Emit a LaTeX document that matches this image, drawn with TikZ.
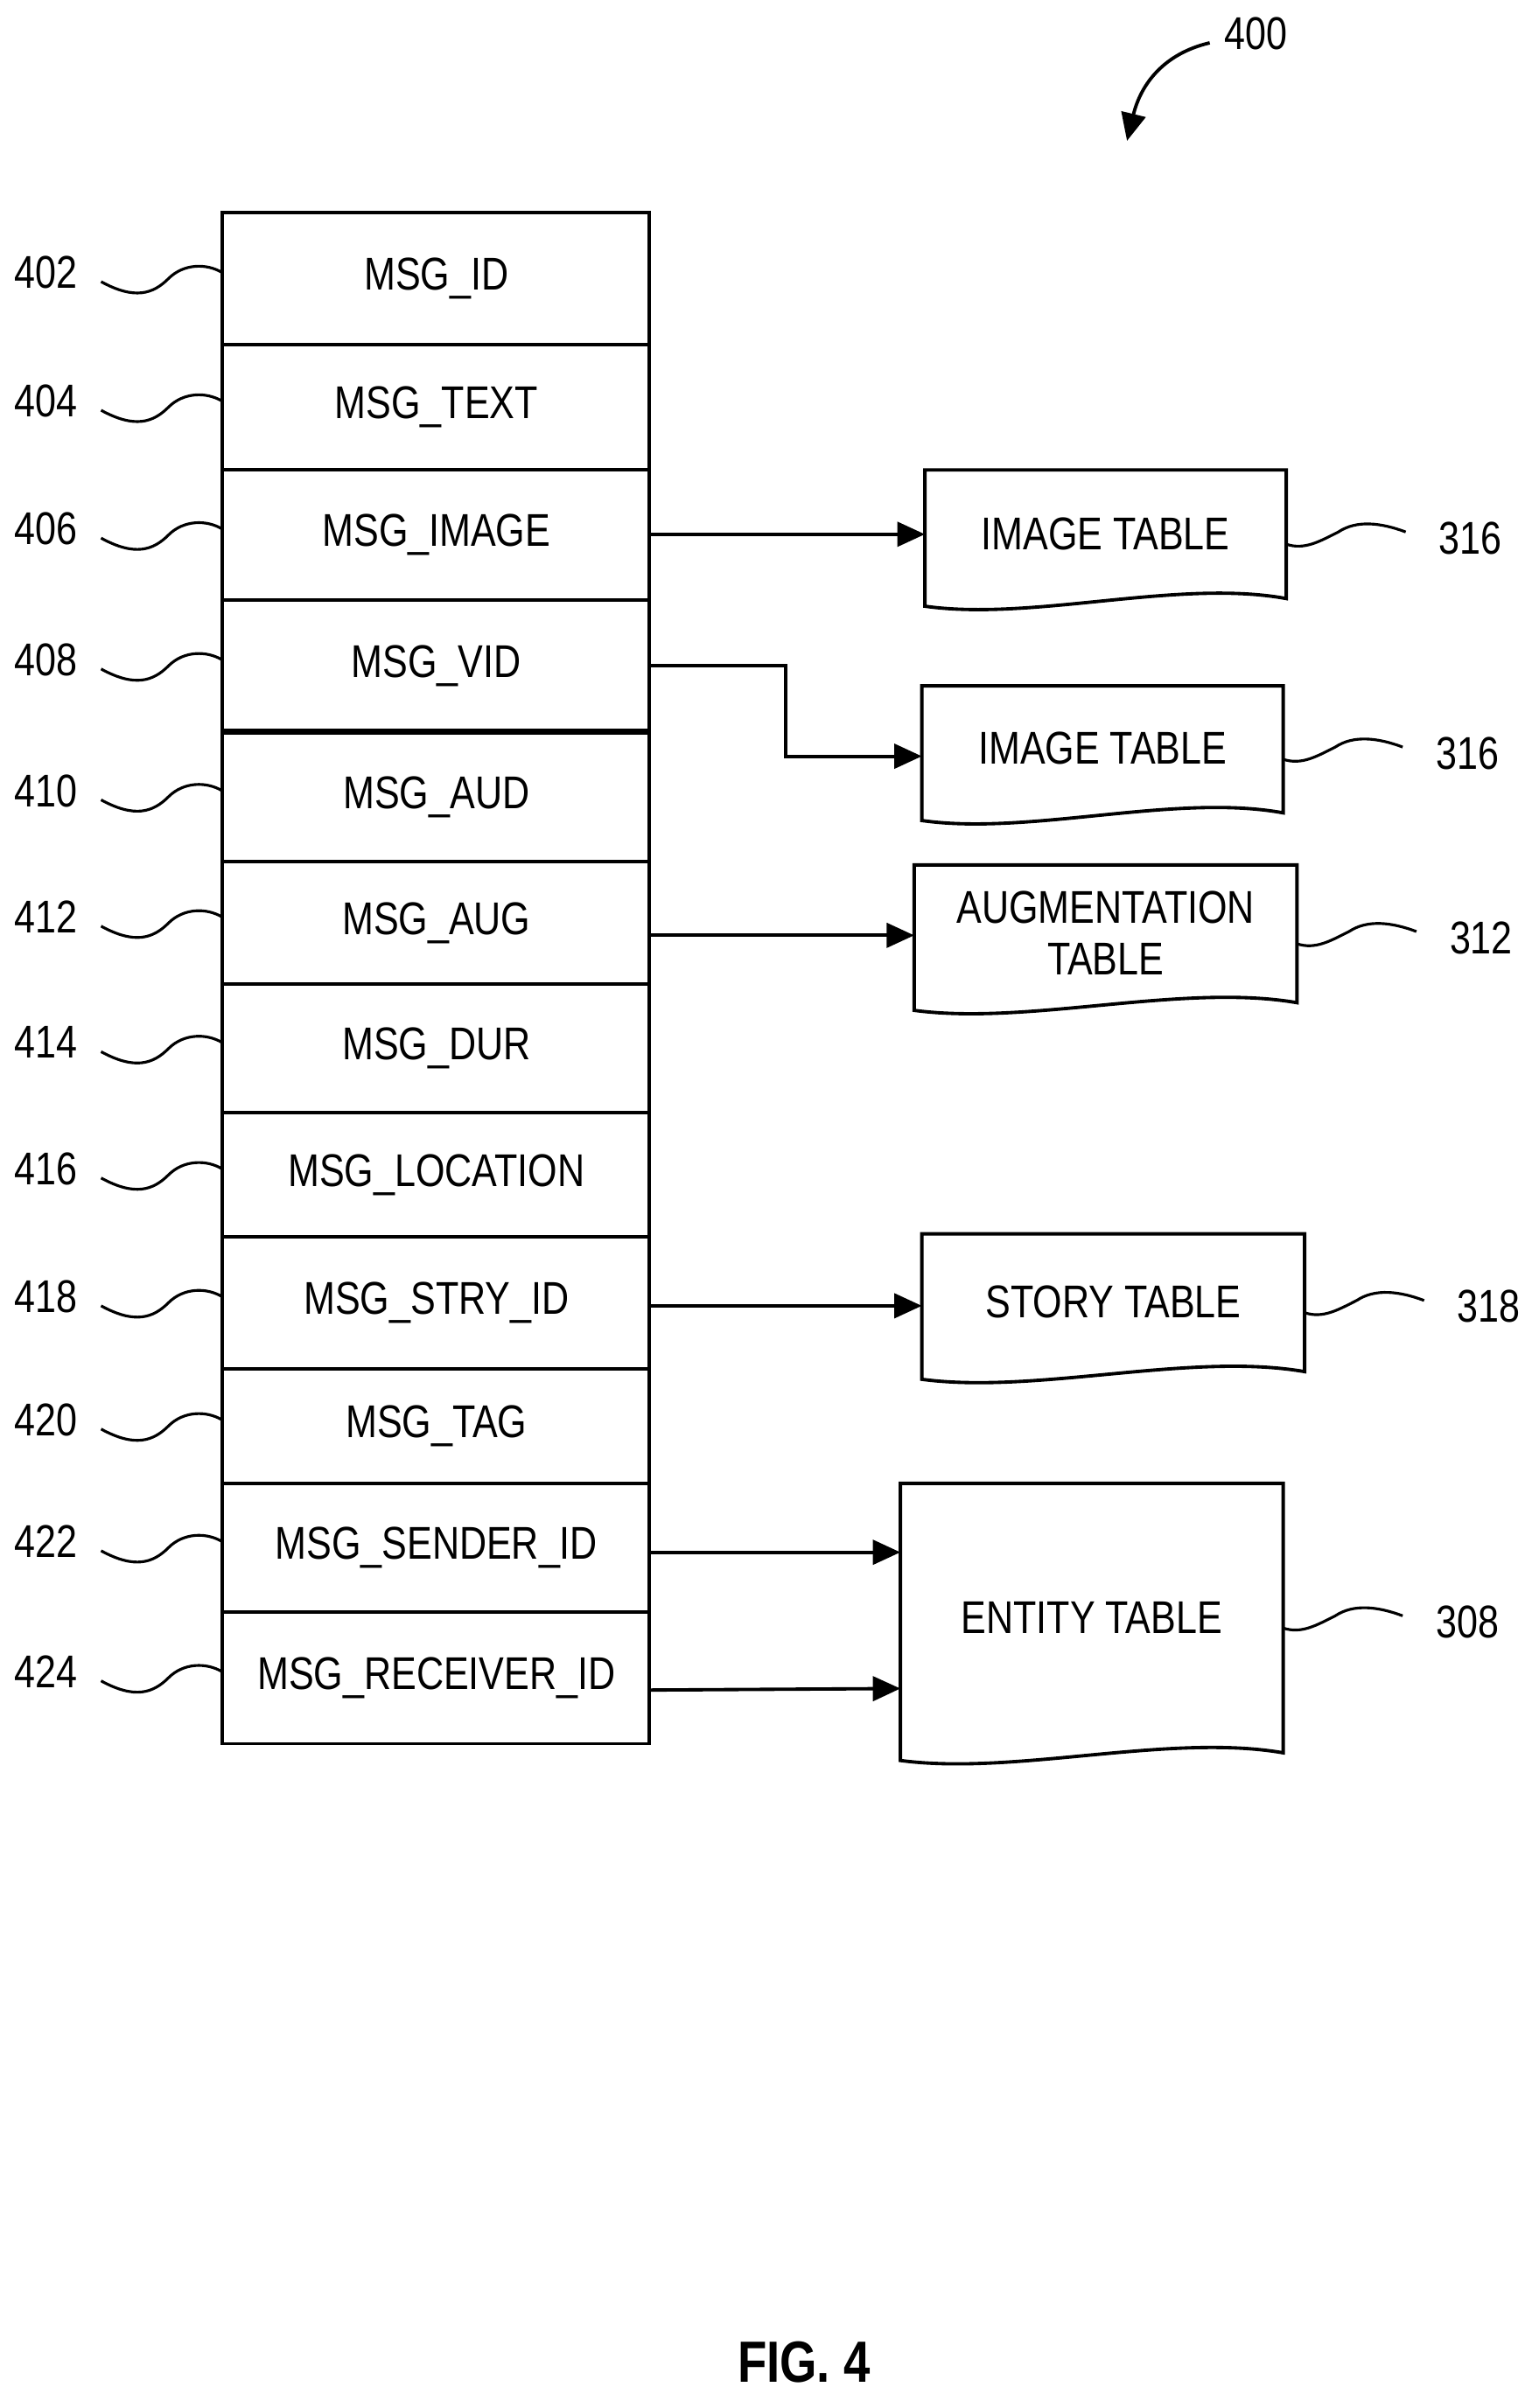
\documentclass[tikz,border=0pt]{standalone}
\usepackage{fontspec}
\setmainfont[FakeStretch=0.82]{Liberation Sans}
\usetikzlibrary{arrows.meta}
\begin{document}
\begin{tikzpicture}[x=0.5pt,y=-0.5pt,line width=1.1pt,
  lbl/.style={font=\fontsize{15}{17}\selectfont},
  txt/.style={font=\fontsize{15}{17}\selectfont,align=center},
  arr/.style={-{Triangle[length=9pt,width=8pt]}},
  sq/.style={line width=0.9pt}]
\useasboundingbox (0,0) rectangle (1000,1573);
% table
\def\rows{139/225/402/MSG\_ID,225/307/404/MSG\_TEXT,307/392/406/MSG\_IMAGE,392/478/408/MSG\_VID,478/563/410/MSG\_AUD,563/643/412/MSG\_AUG,643/727/414/MSG\_DUR,727/808/416/MSG\_LOCATION,808/894/418/MSG\_STRY\_ID,894/969/420/MSG\_TAG,969/1053/422/MSG\_SENDER\_ID,1053/1139/424/MSG\_RECEIVER\_ID}
\foreach \a/\b/\n/\t in \rows {
  \draw (145,\a) rectangle (424,\b);
  \node[txt] (r\n) at (285,{(\a+\b)/2}) {\t};
  \node[lbl] (l\n) at (30,{(\a+\b)/2-4}) {\n};
  \draw[sq] (66,{(\a+\b)/2+2}) .. controls (88,{(\a+\b)/2+14}) and (100,{(\a+\b)/2+10}) .. (110,{(\a+\b)/2}) .. controls (120,{(\a+\b)/2-10}) and (135,{(\a+\b)/2-10}) .. (145,{(\a+\b)/2-4});
}
\draw[line width=2pt] (145,478) -- (424,478);
% documents
\def\doc#1#2#3#4#5#6#7{% name L T R B text label
  \draw (#2,#5) -- (#2,#3) -- (#4,#3) -- (#4,#5-5) .. controls ({#2+0.7*(#4-#2)},#5-18) and ({#2+0.3*(#4-#2)},#5+10) .. (#2,#5) -- cycle;
  \node[txt] (#1) at ({(#2+#4)/2},{(#3+#5)/2-3}) {#6};
  \draw[sq] (#4,{(#3+#5)/2+4}) .. controls ({#4+12},{(#3+#5)/2+8}) and ({#4+22},{(#3+#5)/2+2}) .. ({#4+34},{(#3+#5)/2-4}) .. controls ({#4+46},{(#3+#5)/2-12}) and ({#4+62},{(#3+#5)/2-10}) .. ({#4+78},{(#3+#5)/2-4});
  \node[lbl,anchor=west] (#1l) at ({#4+92},{(#3+#5)/2}) {#7};
}
\doc{img1}{604}{307}{840}{396}{IMAGE TABLE}{316}
\doc{img2}{602}{448}{838}{536}{IMAGE TABLE}{316}
\doc{aug}{597}{565}{847}{660}{AUGMENTATION\\TABLE}{312}
\doc{sto}{602}{806}{852}{901}{STORY TABLE}{318}
\doc{ent}{588}{969}{838}{1150}{ENTITY TABLE}{308}
% arrows
\coordinate (e1) at (604,349); \coordinate (e2) at (602,494); \coordinate (e3) at (597,611);
\coordinate (e4) at (602,853); \coordinate (e5) at (588,1014); \coordinate (e6) at (588,1103);
\draw[arr] (424,349) -- (e1);
\draw[arr] (424,435) -- (513,435) -- (513,494) -- (e2);
\draw[arr] (424,611) -- (e3);
\draw[arr] (424,853) -- (e4);
\draw[arr] (424,1014) -- (e5);
\draw[arr] (424,1104) -- (e6);
% 400
\node[lbl] (n400) at (820,22) {400};
\coordinate (a400) at (736,92);
\draw[arr] (790,28) .. controls (760,35) and (745,55) .. (a400);
\node[font=\bfseries\fontsize{19}{21}\selectfont] (fig) at (525,1543) {FIG. 4};
\end{tikzpicture}
\end{document}
